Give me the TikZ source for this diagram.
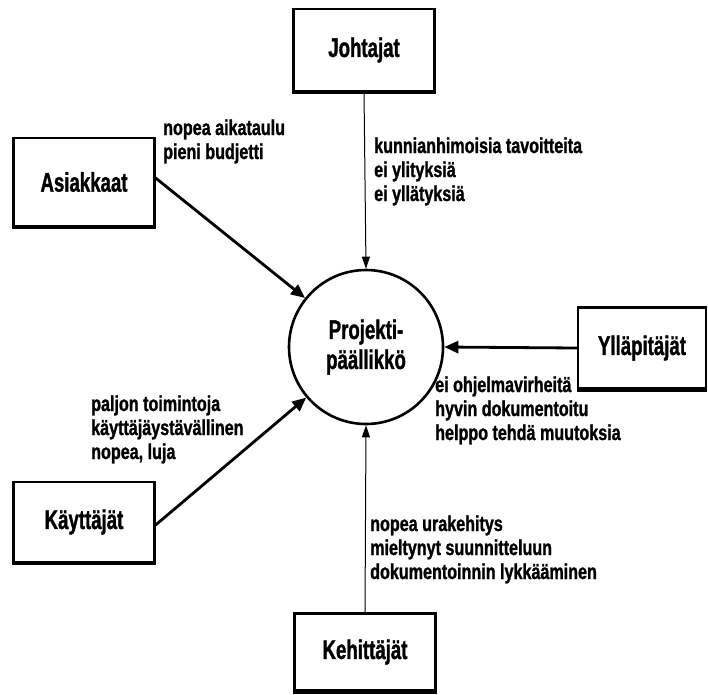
\documentclass[tikz,border=0pt]{standalone}
\usepackage{fontspec}
\setmainfont{Liberation Sans}[FakeStretch=0.75, BoldFeatures={FakeBold=1.2}]
\newfontfamily\boxfont{Liberation Sans}[FakeStretch=0.69, BoldFeatures={FakeBold=1.2}]
\usepackage{tikz}
\usetikzlibrary{arrows.meta, positioning}

\begin{document}
\begin{tikzpicture}[
    x=1pt, y=-1pt,
    every node/.style={font=\bfseries},
    party/.style={draw, rectangle, line width=2.2pt, minimum width=141pt, minimum height=82pt, fill=white, font=\boxfont\fontsize{27}{30}\selectfont\bfseries},
    pm/.style={draw, circle, line width=2.6pt, minimum size=154pt, align=center, inner sep=0pt, font=\boxfont\fontsize{27}{30}\selectfont\bfseries},
    note/.style={anchor=base west, align=left, inner sep=0pt, font=\fontsize{21.5}{24}\selectfont\bfseries},
    thinarrow/.style={-{Triangle[length=12pt, width=8pt]}, line width=1pt},
    thickarrow/.style={-{Triangle[length=14pt, width=12pt]}, line width=2.8pt}
]
    \useasboundingbox (0,0) rectangle (708,694);

    % Central actor
    \node[pm] (proj) at (366,347) {Projekti-\\päällikkö};

    % Stakeholders
    \node[party] (johtajat) at (364,50) {Johtajat};
    \node[party, minimum height=88pt] (asiakkaat) at (84,182) {Asiakkaat};
    \node[party, minimum width=128pt, minimum height=81pt] (yllapitajat) at (642,348) {Ylläpitäjät};
    \node[party, minimum height=80pt] (kayttajat) at (84,522) {Käyttäjät};
    \node[party, minimum height=77pt] (kehittajat) at (365,652) {Kehittäjät};

    % Heavier lower edges
    \foreach \b in {johtajat, asiakkaat, yllapitajat, kayttajat, kehittajat}
        \draw[line width=3.8pt] (\b.south west) -- (\b.south east);

    % Expectations
    \draw[thinarrow] (johtajat.south) -- (proj.north);
    \draw[thickarrow] (asiakkaat.east |- 0,178) -- (proj);
    \draw[thickarrow] (yllapitajat.west) -- (proj.east);
    \draw[thickarrow] (kayttajat.east |- 0,525) -- (proj);
    \draw[thinarrow] (kehittajat.north) -- (proj.south);

    % Labels (anchored at the last line)
    \node[note] (tavoitteet) at (374,201) {kunnianhimoisia tavoitteita\\ei ylityksiä\\ei yllätyksiä};
    \node[note] (aikataulu) at (163,159) {nopea aikataulu\\pieni budjetti};
    \node[note] (virheet) at (435,440) {ei ohjelmavirheitä\\hyvin dokumentoitu\\helppo tehdä muutoksia};
    \node[note] (toiminnot) at (91,459) {paljon toimintoja\\käyttäjäystävällinen\\nopea, luja};
    \node[note] (urakehitys) at (370,579) {nopea urakehitys\\mieltynyt suunnitteluun\\dokumentoinnin lykkääminen};
\end{tikzpicture}
\end{document}
